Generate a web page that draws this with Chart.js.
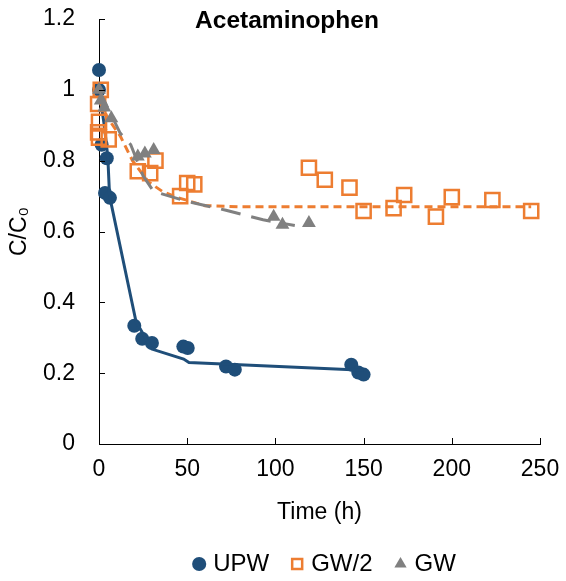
<!DOCTYPE html>
<html>
<head>
<meta charset="utf-8">
<script src="https://cdn.jsdelivr.net/npm/chart.js@4"></script>
<style>
  html, body { margin: 0; padding: 0; background: #fff; }
  #wrap { width: 566px; height: 581px; }
</style>
</head>
<body>
<div id="wrap"><canvas id="chart" width="566" height="581"></canvas></div>
<script>
const chartTitle = 'Acetaminophen';
const xTicks = [0, 50, 100, 150, 200, 250];
const yTicks = [0, 0.2, 0.4, 0.6, 0.8, 1, 1.2];

// measured points (time in h, C/C0)
const upwTime = [0, 0, 1.5, 4.4, 3.4, 6.2, 20, 24.5, 30, 47.8, 50.3, 72, 77, 143, 147, 150];
const upwConc = [1.056, 1.0, 0.845, 0.807, 0.709, 0.695, 0.334, 0.297, 0.285, 0.275, 0.271, 0.219, 0.21, 0.224, 0.202, 0.196];

const gw2Time = [1, -0.5, 0, -0.5, 0, 5.5, 22, 29, 32, 46, 50, 54, 119, 128, 142, 150, 167, 173, 191, 200, 223, 245];
const gw2Conc = [1.0, 0.96, 0.91, 0.88, 0.865, 0.86, 0.77, 0.765, 0.80, 0.70, 0.737, 0.733, 0.78, 0.746, 0.724, 0.658, 0.666, 0.703, 0.642, 0.697, 0.689, 0.658];

const gwTime = [0, 1, 3, 7, 22, 26, 31, 99, 104, 119];
const gwConc = [1.0, 0.97, 0.95, 0.92, 0.812, 0.82, 0.83, 0.642, 0.619, 0.624];

// model fits
const upwFitTime = [0, 3, 5, 6, 21, 30, 48, 51, 150];
const upwFitConc = [1.0, 0.9, 0.81, 0.7, 0.345, 0.268, 0.24, 0.23, 0.208];

const gw2FitTime = [0, 5, 12, 19, 28, 36, 45, 60, 80, 245];
const gw2FitConc = [0.97, 0.92, 0.87, 0.8, 0.74, 0.713, 0.695, 0.673, 0.67, 0.67];

const gwFitTime = [0, 12, 18, 25, 31, 50, 72, 93, 111];
const gwFitConc = [1.0, 0.878, 0.845, 0.757, 0.713, 0.685, 0.66, 0.633, 0.617];

const pts = (xs, ys) => xs.map((x, i) => ({ x: x, y: ys[i] }));

const blue = '#1F4E79';
const orange = '#ED7D31';
const grey = '#808080';
const font = '"Liberation Sans", Arial, sans-serif';

const extras = {
  id: 'extras',
  afterLayout(chart) {
    // legend sits a little right of the plot centre
    chart.legend.left += 7;
    chart.legend.right += 7;
  },
  afterDraw(chart) {
    const { ctx, chartArea, scales } = chart;
    ctx.save();
    ctx.strokeStyle = '#000';
    ctx.lineWidth = 1;
    ctx.beginPath();
    xTicks.forEach(v => {
      const x = Math.round(scales.x.getPixelForValue(v)) + 0.5;
      ctx.moveTo(x, chartArea.bottom);
      ctx.lineTo(x, chartArea.bottom - 6);
    });
    yTicks.forEach(v => {
      const y = Math.round(scales.y.getPixelForValue(v)) + 0.5;
      ctx.moveTo(chartArea.left, y);
      ctx.lineTo(chartArea.left + 6, y);
    });
    ctx.stroke();
    ctx.fillStyle = '#000';
    ctx.font = 'bold 24.5px ' + font;
    ctx.textAlign = 'center';
    ctx.textBaseline = 'middle';
    ctx.fillText(chartTitle, 287, 21);
    ctx.restore();
  }
};

new Chart(document.getElementById('chart'), {
  type: 'scatter',
  data: {
    datasets: [
      {
        label: 'UPW', data: pts(upwTime, upwConc), order: 5,
        pointStyle: 'circle', pointRadius: 7, borderWidth: 0,
        backgroundColor: blue, borderColor: blue, clip: false
      },
      {
        label: 'GW/2', data: pts(gw2Time, gw2Conc), order: 3,
        pointStyle: 'rect', pointRadius: 10, borderWidth: 2.5,
        backgroundColor: 'rgba(0,0,0,0)', borderColor: orange, clip: false
      },
      {
        label: 'GW', data: pts(gwTime, gwConc), order: 1,
        pointStyle: 'triangle', pointRadius: 8, borderWidth: 0,
        backgroundColor: grey, borderColor: grey, clip: false
      },
      {
        label: 'UPW fit', data: pts(upwFitTime, upwFitConc), order: 4,
        showLine: true, pointRadius: 0, borderColor: blue, borderWidth: 3, tension: 0
      },
      {
        label: 'GW/2 fit', data: pts(gw2FitTime, gw2FitConc), order: 2,
        showLine: true, pointRadius: 0, borderColor: orange, borderWidth: 3, borderDash: [8, 5], tension: 0
      },
      {
        label: 'GW fit', data: pts(gwFitTime, gwFitConc), order: 0,
        showLine: true, pointRadius: 0, borderColor: grey, borderWidth: 3, borderDash: [20, 11], tension: 0
      }
    ]
  },
  options: {
    responsive: false,
    animation: false,
    layout: { padding: { top: 19, right: 26, left: 0, bottom: -5 } },
    plugins: {
      legend: {
        position: 'bottom',
        fullSize: false,
        labels: {
          usePointStyle: true,
          boxWidth: 4,
          boxHeight: 10,
          padding: 26,
          color: '#000',
          font: { family: font, size: 24 },
          filter: item => item.datasetIndex < 3,
          sort: (a, b) => a.datasetIndex - b.datasetIndex
        }
      },
      tooltip: { enabled: false },
      title: { display: false }
    },
    scales: {
      x: {
        type: 'linear', min: 0, max: 250,
        afterFit: scale => {
          scale.height = 82;
          scale.paddingLeft = 0;
          scale.paddingRight = 0;
        },
        grid: { display: false, drawTicks: false },
        border: { display: true, color: '#000', width: 1 },
        ticks: {
          stepSize: 50, padding: 12, color: '#000', maxRotation: 0,
          font: { family: font, size: 23 }
        },
        title: {
          display: true, text: 'Time (h)', color: '#000',
          font: { family: font, size: 23 }, padding: { top: 0, bottom: 0 }
        }
      },
      y: {
        type: 'linear', min: 0, max: 1.2,
        afterFit: scale => {
          scale.width = 99;
          scale.paddingTop = 0;
          scale.paddingBottom = 0;
        },
        grid: { display: false, drawTicks: false },
        border: { display: true, color: '#000', width: 1 },
        ticks: {
          stepSize: 0.2, padding: 24, color: '#000',
          font: { family: font, size: 23 },
          callback: v => String(Math.round(v * 10) / 10)
        },
        title: {
          display: true, text: 'C/C₀', color: '#000',
          font: { family: font, size: 23 }, padding: { top: 6, bottom: 0 }
        }
      }
    }
  },
  plugins: [extras]
});
</script>
</body>
</html>
